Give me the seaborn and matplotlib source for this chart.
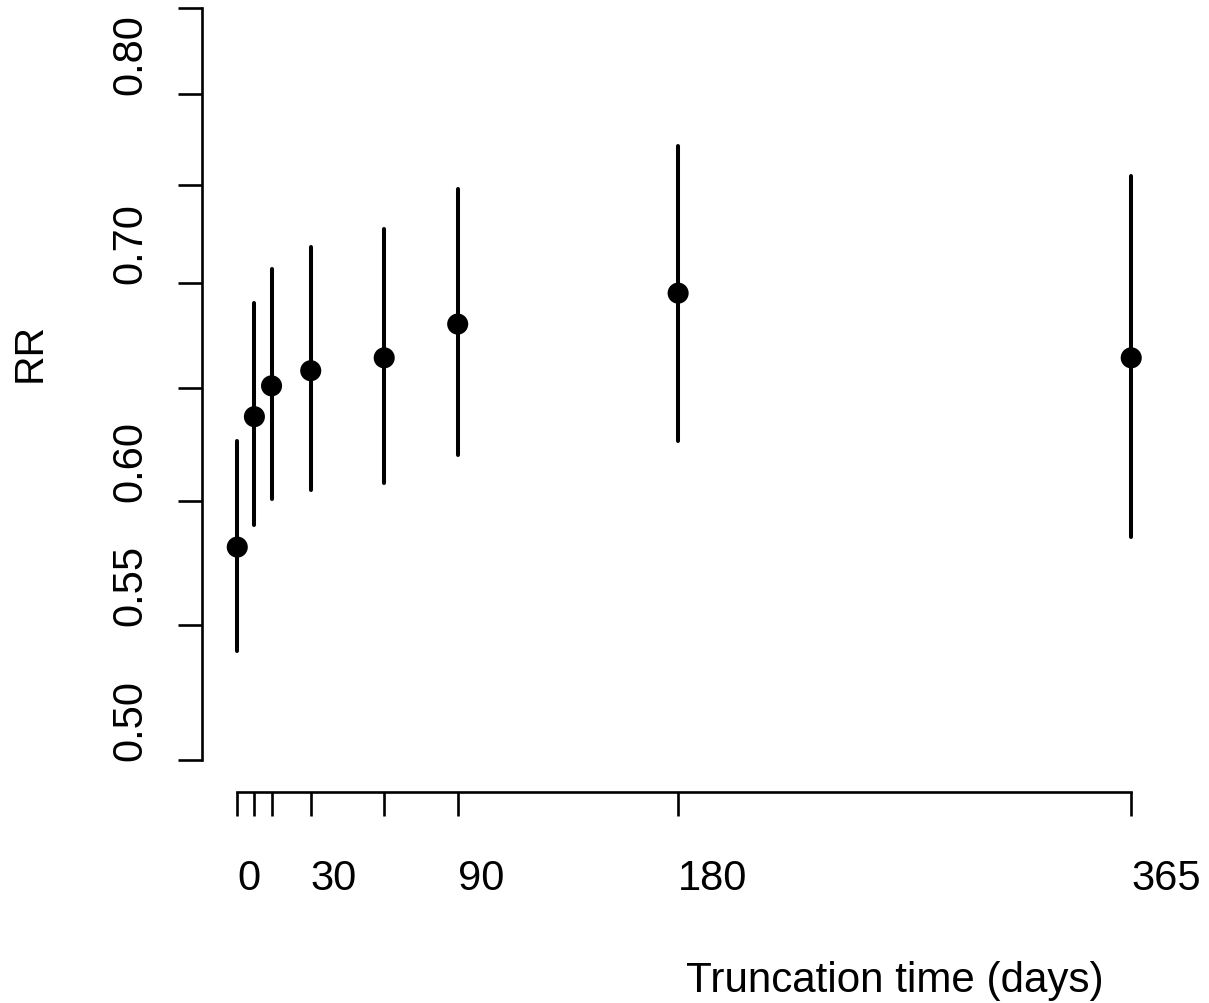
import numpy as np
import pandas as pd
import matplotlib
matplotlib.use("Agg")
import matplotlib.pyplot as plt
from matplotlib.ticker import NullLocator, FixedLocator
import seaborn as sns

# ---- data ----
days = [0, 7, 14, 30, 60, 90, 180, 365]
rr = [0.581, 0.637, 0.651, 0.658, 0.664, 0.680, 0.695, 0.664]
rr_lower = [0.540, 0.590, 0.601, 0.605, 0.608, 0.620, 0.626, 0.585]
rr_upper = [0.626, 0.690, 0.707, 0.718, 0.727, 0.748, 0.771, 0.755]

x_ticks = [0, 7, 14, 30, 60, 90, 180, 365]
x_tick_labels = ["0", "", "", "30", "", "90", "180", "365"]
y_ticks = [0.50, 0.55, 0.60, 0.65, 0.70, 0.75, 0.80, 0.85]
y_tick_labels = ["0.50", "0.55", "0.60", "", "0.70", "", "0.80", ""]

df = pd.DataFrame({"days": days, "rr": rr, "lo": rr_lower, "hi": rr_upper})

sns.set_style("ticks")
plt.rcParams["font.family"] = ["Liberation Sans", "DejaVu Sans"]
plt.rcParams["text.color"] = "black"
plt.rcParams["xtick.color"] = "black"
plt.rcParams["ytick.color"] = "black"
plt.rcParams["xtick.labelcolor"] = "black"
plt.rcParams["ytick.labelcolor"] = "black"

W, H = 1209, 1004
fig = plt.figure(figsize=(W / 100, H / 100), dpi=100)
ax = fig.add_axes([201.5 / W, (H - 793) / H, (1167 - 201.5) / W, 793 / H])

ax.set_yscale("log")
ax.vlines(df["days"], df["lo"], df["hi"], colors="black", linewidth=2.9,
          capstyle="round")
sns.scatterplot(data=df, x="days", y="rr", ax=ax, color="black", s=230,
                marker="o", edgecolor="none", zorder=3)

ax.set_xlim(-14.6, 379.6)
ax.set_ylim(0.4888, 0.8553)

ax.xaxis.set_major_locator(FixedLocator(x_ticks))
ax.set_xticklabels(x_tick_labels)
ax.yaxis.set_major_locator(FixedLocator(y_ticks))
ax.yaxis.set_minor_locator(NullLocator())
ax.xaxis.set_minor_locator(NullLocator())
ax.set_yticklabels(y_tick_labels)

for lab in ax.get_xticklabels():
    lab.set_ha("left")
    lab.set_fontsize(30)
    lab.set_color("black")
for lab in ax.get_yticklabels():
    lab.set_rotation(90)
    lab.set_va("bottom")
    lab.set_ha("right")
    lab.set_fontsize(30)
    lab.set_color("black")

ax.tick_params(axis="both", length=17.3, width=1.9, color="black")
ax.tick_params(axis="x", pad=30)
ax.tick_params(axis="y", pad=19.5)

for s in ["top", "right"]:
    ax.spines[s].set_visible(False)
ax.spines["left"].set_bounds(0.5, 0.85)
ax.spines["bottom"].set_bounds(0, 365)
for s in ["left", "bottom"]:
    ax.spines[s].set_linewidth(1.9)
    ax.spines[s].set_color("black")

ax.set_xlabel("")
ax.set_ylabel("")
fig.text(686 / W, 1 - 992 / H, "Truncation time (days)", ha="left",
         va="baseline", fontsize=30.3, color="black")
fig.text(30 / W, 1 - 382 / H, "RR", rotation=90, ha="center", va="bottom",
         fontsize=29.5, color="black")

fig.savefig("out.png", dpi=100)
